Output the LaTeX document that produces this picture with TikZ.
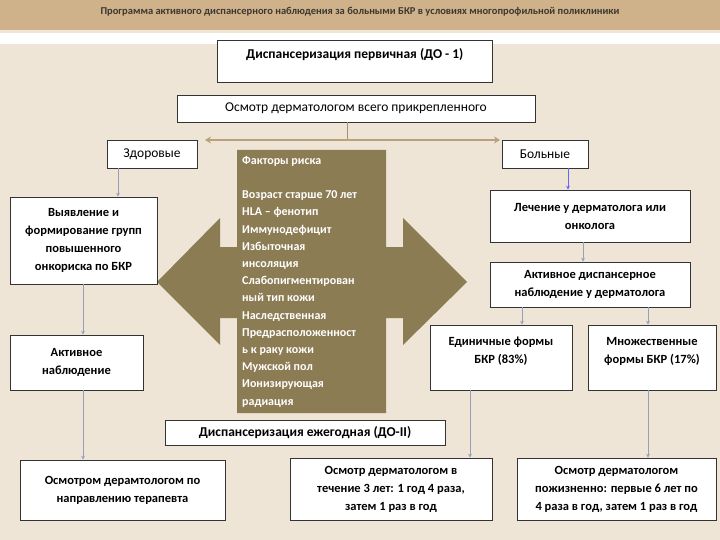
\documentclass[tikz,border=0pt]{standalone}
\usepackage{fontspec}
\setmainfont{Carlito}
\usetikzlibrary{arrows.meta}
\definecolor{bg}{RGB}{238,229,214}
\definecolor{band}{RGB}{207,178,138}
\definecolor{olive}{RGB}{140,124,84}
\definecolor{conn}{RGB}{150,160,185}
\definecolor{ttl}{RGB}{60,55,50}
\tikzset{
 box/.style={draw=black!80, line width=0.6pt, fill=white, inner sep=2pt, align=center, font=\fontsize{12.5}{18}\selectfont\bfseries},
 lbox/.style={box, font=\fontsize{13.5}{18}\selectfont},
 conn/.style={draw=conn, line width=0.7pt, -{Stealth[length=4pt,width=4pt]}},
}
\begin{document}
\begin{tikzpicture}[x=1pt,y=-1pt]
\useasboundingbox (0,0) rectangle (720,540);
\fill[bg] (0,0) rectangle (720,540);
\fill[band] (0,0) rectangle (720,30);
\fill[white] (0,33) rectangle (720,44);
\node[font=\fontsize{10.5}{12}\selectfont\bfseries, text=ttl] (title) at (360,12) {Программа активного диспансерного наблюдения за больными БКР в условиях многопрофильной поликлиники};
% double arrow
\fill[olive] (237,150) -- (386,150) -- (386,247) -- (403,247) -- (403,218) -- (467,282) -- (403,345) -- (403,318) -- (386,318) -- (386,413) -- (237,413) -- (237,318) -- (220,318) -- (220,345) -- (157,282) -- (220,218) -- (220,247) -- (237,247) -- cycle;
\node[box, font=\fontsize{13.5}{18}\selectfont\bfseries, minimum width=275, minimum height=42, anchor=north west, text depth=16pt] (do1) at (217,40) {Диспансеризация первичная (ДО - 1)};
\node[lbox, minimum width=358, minimum height=27] (osm) at (356,108.5) {Осмотр дерматологом всего прикрепленного};
\node[lbox, minimum width=90, minimum height=28] (zd) at (152,154) {Здоровые};
\node[lbox, minimum width=86, minimum height=28] (bo) at (545,154) {Больные};
\coordinate (hc) at (347,140);
\draw[draw=band!80!black, line width=0.8pt] (osm.south -| hc) -- (hc);
\draw[draw=band!90!black, line width=2pt, {Stealth[length=6pt,width=7pt]}-{Stealth[length=6pt,width=7pt]}] (205,140) -- (500,140);
\node[anchor=north west, text=white, align=left, font=\fontsize{12}{17.2}\selectfont\bfseries, inner sep=0pt] (fr) at (242,156) {Факторы риска\\[17.2pt]Возраст старше 70 лет\\HLA – фенотип\\Иммунодефицит\\Избыточная\\инсоляция\\Слабопигментирован\\ный тип кожи\\Наследственная\\Предрасположенност\\ь к раку кожи\\Мужской пол\\Ионизирующая\\радиация};
\node[box, minimum width=147, minimum height=87] (vy) at (83.5,240.5) {Выявление и\\формирование групп\\повышенного\\онкориска по БКР};
\node[box, minimum width=133, minimum height=55] (an) at (76.5,362.5) {Активное\\наблюдение};
\node[box, minimum width=205, minimum height=60] (on) at (122.5,490) {Осмотром дерамтологом по\\направлению терапевта};
\node[box, minimum width=200, minimum height=52] (le) at (590,216) {Лечение у дерматолога или\\онколога};
\node[box, minimum width=200, minimum height=45] (ad) at (590,284.5) {Активное диспансерное\\наблюдение у дерматолога};
\node[box, minimum width=142, minimum height=65, text depth=14pt] (ed) at (501,357.5) {Единичные формы\\БКР (83\%)};
\node[box, minimum width=128, minimum height=65, text depth=14pt] (mn) at (652,357.5) {Множественные\\формы БКР (17\%)};
\node[box, font=\fontsize{13.5}{18}\selectfont\bfseries, minimum width=280, minimum height=25] (do2) at (305,432.5) {Диспансеризация ежегодная (ДО-II)};
\node[box, minimum width=202, minimum height=62] (t3) at (391,489) {Осмотр дерматологом в\\течение 3 лет: 1 год 4 раза,\\затем 1 раз в год};
\node[box, minimum width=199, minimum height=62] (pz) at (616.5,489) {Осмотр дерматологом\\пожизненно: первые 6 лет по\\4 раза в год, затем 1 раз в год};
\draw[conn] (zd.south -| 118,0) -- (vy.north -| 118,0);
\draw[conn] (vy.south -| 83,0) -- (an.north -| 83,0);
\draw[conn] (an.south -| 83,0) -- (on.north -| 83,0);
\draw[conn, draw=blue!60] (bo.south -| 568,0) -- (le.north -| 568,0);
\draw[conn] (le.south -| 583,0) -- (ad.north -| 583,0);
\draw[conn] (ad.south -| 522,0) -- (ed.north -| 522,0);
\draw[conn] (ad.south -| 648,0) -- (mn.north -| 648,0);
\draw[conn] (ed.south -| 470,0) -- (t3.north -| 470,0);
\draw[conn] (mn.south -| 648,0) -- (pz.north -| 648,0);
\end{tikzpicture}
\end{document}
